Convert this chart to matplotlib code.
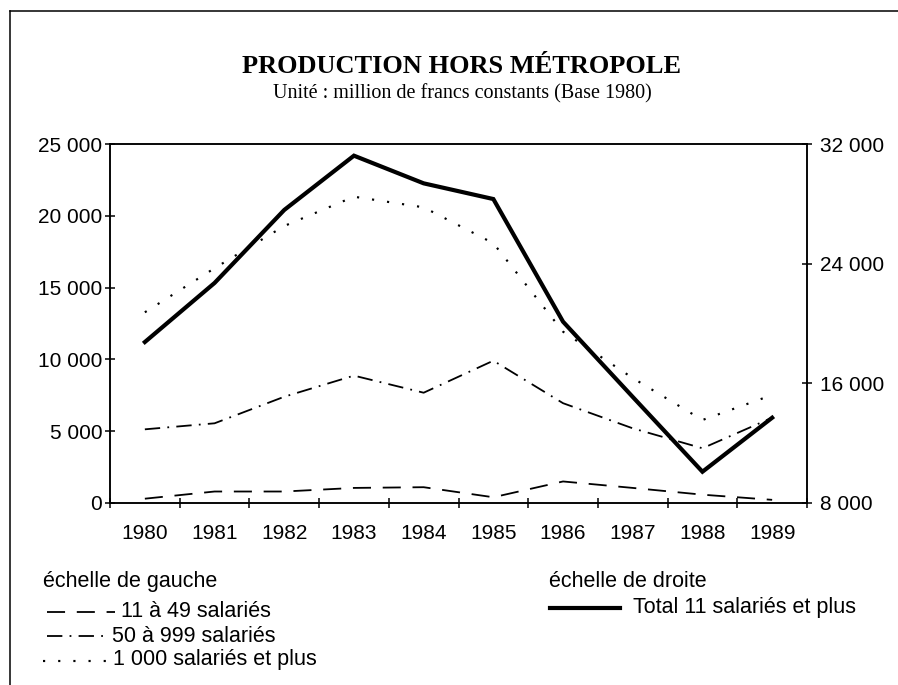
import matplotlib
matplotlib.use("Agg")
import matplotlib.pyplot as plt
from matplotlib.lines import Line2D
from matplotlib.ticker import FuncFormatter
import numpy as np

# données (million de francs constants, base 1980)
annees = ["1980", "1981", "1982", "1983", "1984", "1985", "1986", "1987", "1988", "1989"]
sal_11_49 = [300, 800, 800, 1050, 1100, 400, 1500, 1050, 580, 220]
sal_50_999 = [5130, 5550, 7400, 8870, 7680, 9910, 6950, 5200, 3810, 5940]
sal_1000_plus = [13280, 16350, 19290, 21330, 20590, 18090, 11930, 8700, 5780, 7520]
total_11_plus = [18760, 22710, 27590, 31220, 29370, 28320, 20120, 15090, 10090, 13700]

ticks_gauche = [0, 5000, 10000, 15000, 20000, 25000]
ticks_droite = [8000, 16000, 24000, 32000]

W, H = 898, 685
plt.rcParams["font.family"] = ["Liberation Sans", "DejaVu Sans"]

fig = plt.figure(figsize=(W / 100, H / 100), dpi=100)


def fx(x):
    return x / W


def fy(y):
    return 1 - y / H


ax = fig.add_axes([fx(110), fy(503), (807 - 110) / W, (503 - 144) / H])
ax2 = ax.twinx()

x = np.arange(len(annees))
lw = 1.3
style_11 = (0, (10, 6.5))
style_50 = (0, (8.5, 4, 1, 4))
style_1000 = (0, (1, 6))

ax.plot(x, sal_11_49, color="black", lw=lw, linestyle=style_11)
ax.plot(x, sal_50_999, color="black", lw=lw, linestyle=style_50)
ax.plot(x, sal_1000_plus, color="black", lw=lw * 1.2, linestyle=style_1000)
ax2.plot(x, total_11_plus, color="black", lw=3.0, solid_joinstyle="miter")

ax.set_xlim(-0.5, len(annees) - 0.5)
ax.set_ylim(0, 25000)
ax2.set_ylim(8000, 32000)

fmt = FuncFormatter(lambda v, p: f"{v:,.0f}".replace(",", " "))
ax.set_yticks(ticks_gauche)
ax.yaxis.set_major_formatter(fmt)
ax2.set_yticks(ticks_droite)
ax2.yaxis.set_major_formatter(fmt)

ax.set_xticks(x)
ax.set_xticklabels(annees)
ax.set_xticks(np.arange(len(annees) + 1) - 0.5, minor=True)
ax.tick_params(axis="x", which="major", length=0, pad=15, labelsize=15)
ax.tick_params(axis="x", which="minor", direction="inout", length=7, width=1.1)
ax.tick_params(axis="y", direction="inout", length=7, width=1.1, pad=2, labelsize=15)
ax2.tick_params(axis="y", direction="inout", length=7, width=1.1, pad=6, labelsize=15)

for a in (ax, ax2):
    for s in a.spines.values():
        s.set_linewidth(1.1)

# titre
fig.text(fx(461), fy(72.7), "PRODUCTION HORS MÉTROPOLE", ha="center", va="baseline",
         family="Liberation Serif", fontsize=19, fontweight="bold")
fig.text(fx(462), fy(98.3), "Unité : million de francs constants (Base 1980)",
         ha="center", va="baseline", family="Liberation Serif", fontsize=14.5)

# cadre
fig.add_artist(Line2D([fx(10), fx(10)], [fy(11), fy(685)], color="black", lw=1.1))
fig.add_artist(Line2D([fx(10), fx(898)], [fy(11), fy(11)], color="black", lw=1.1))

# légende
fs = 15.5
fig.text(fx(43), fy(587), "échelle de gauche", fontsize=fs, va="baseline")
rows = [
    (style_11, lw, 47, 115, 611.7, 121, 616.7, "11 à 49 salariés"),
    (style_50, lw, 47, 110, 635.7, 112, 641.7, "50 à 999 salariés"),
    (style_1000, lw * 1.2, 43, 107, 661, 113, 665, "1 000 salariés et plus"),
]
for ls, w, x0, x1, ly, tx, ty, lab in rows:
    fig.add_artist(Line2D([fx(x0), fx(x1)], [fy(ly), fy(ly)], color="black", lw=w, linestyle=ls))
    fig.text(fx(tx), fy(ty), lab, fontsize=fs, va="baseline")

fig.text(fx(549), fy(587), "échelle de droite", fontsize=fs, va="baseline")
fig.add_artist(Line2D([fx(550), fx(620)], [fy(608), fy(608)], color="black", lw=3.0))
fig.text(fx(633), fy(613), "Total 11 salariés et plus", fontsize=fs, va="baseline")

fig.savefig("out.png", dpi=100)
plt.close(fig)
